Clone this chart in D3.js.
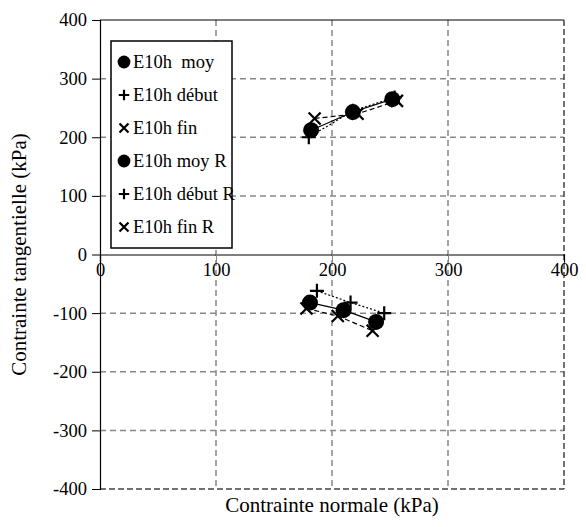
<!DOCTYPE html>
<html><head><meta charset="utf-8">
<script src="https://cdn.jsdelivr.net/npm/d3@7"></script>
<style>body{margin:0;background:#fff}svg text{font-family:"Liberation Serif","Times New Roman",serif !important}</style>
</head><body><svg id="c" width="586" height="527"></svg>
<script>
const xTicks=[0,100,200,300,400];
const yTicks=[-400,-300,-200,-100,0,100,200,300,400];
const moyN=[182,218,252], moyT=[212,243,265];
const debN=[180,218,254], debT=[200,245,268];
const finN=[185,222,256], finT=[232,240,262];
const moyRN=[181,210,238], moyRT=[-82,-95,-115];
const debRN=[187,216,245], debRT=[-62,-82,-100];
const finRN=[178,205,235], finRT=[-92,-105,-130];
const seriesNames=["E10h  moy","E10h début","E10h fin","E10h moy R","E10h début R","E10h fin R"];

const svg=d3.select("#c");
const L=100,R=564,T=20,B=489;
const x=d3.scaleLinear().domain([0,400]).range([L,R]);
const y=d3.scaleLinear().domain([-400,400]).range([B,T]);
const fs=18.5;

const g=svg.append("g");
xTicks.filter(d=>d>0&&d<400).forEach(d=>g.append("line").attr("x1",x(d)).attr("x2",x(d)).attr("y1",T).attr("y2",B).attr("stroke","#888").attr("stroke-width",1.5).attr("stroke-dasharray","6,4"));
yTicks.filter(d=>d!==0&&d>-400&&d<400).forEach(d=>g.append("line").attr("x1",L).attr("x2",R).attr("y1",y(d)).attr("y2",y(d)).attr("stroke","#888").attr("stroke-width",1.5).attr("stroke-dasharray","6,4"));
g.append("line").attr("x1",L).attr("x2",R).attr("y1",T).attr("y2",T).attr("stroke","#000").attr("stroke-width",1);
g.append("line").attr("x1",R).attr("x2",R).attr("y1",T).attr("y2",B).attr("stroke","#444").attr("stroke-width",1.5).attr("stroke-dasharray","6,3");
g.append("line").attr("x1",L).attr("x2",R).attr("y1",B).attr("y2",B).attr("stroke","#444").attr("stroke-width",1.5).attr("stroke-dasharray","6,3");

const yAxis=d3.axisLeft(y).tickValues(yTicks).tickSize(8).tickFormat(d=>d);
const ya=svg.append("g").attr("transform",`translate(${L},0)`).call(yAxis);
ya.select(".domain").attr("stroke","#000").attr("stroke-width",1.2);
ya.selectAll("text").style("font-size",fs+"px").attr("fill","#000").attr("dx",-2);
const xAxis=d3.axisBottom(x).tickValues(xTicks).tickSize(8).tickFormat(d=>d);
const xa=svg.append("g").attr("transform",`translate(0,${y(0)})`).call(xAxis);
xa.select(".domain").attr("stroke","#000").attr("stroke-width",1.2);
xa.selectAll(".tick line").attr("stroke",d=>(d===0||d===400)?"#000":"#888");
xa.selectAll("text").style("font-size",fs+"px").attr("fill","#000").attr("dy","0.55em");

function pts(N,Tv){return N.map((n,i)=>[n,Tv[i]]);}
const line=d3.line().x(d=>x(d[0])).y(d=>y(d[1]));
const series=[
 {p:pts(moyN,moyT),dash:null,m:"o"},
 {p:pts(debN,debT),dash:"2,2",m:"+"},
 {p:pts(finN,finT),dash:"5,3",m:"x"},
 {p:pts(moyRN,moyRT),dash:null,m:"o"},
 {p:pts(debRN,debRT),dash:"2,2",m:"+"},
 {p:pts(finRN,finRT),dash:"5,3",m:"x"}];
function marker(sel,m,cx,cy,s){
  if(m==="o") sel.append("circle").attr("cx",cx).attr("cy",cy).attr("r",8*s).attr("fill","#000");
  else if(m==="+"){const h=7*s;sel.append("path").attr("d",`M${cx-h},${cy}H${cx+h}M${cx},${cy-h}V${cy+h}`).attr("stroke","#000").attr("stroke-width",2.2);}
  else {const h=6*s;sel.append("path").attr("d",`M${cx-h},${cy-h}L${cx+h},${cy+h}M${cx-h},${cy+h}L${cx+h},${cy-h}`).attr("stroke","#000").attr("stroke-width",2.2);}
}
const sg=svg.append("g");
series.forEach(s=>{
  const p=sg.append("path").attr("d",line(s.p)).attr("fill","none").attr("stroke","#000").attr("stroke-width",1.2);
  if(s.dash)p.attr("stroke-dasharray",s.dash);
});
series.forEach(s=>s.p.forEach(d=>marker(sg,s.m,x(d[0]),y(d[1]),1)));

const lg=svg.append("g");
lg.append("rect").attr("x",111).attr("y",41).attr("width",121).attr("height",207).attr("fill","#fff").attr("stroke","#000").attr("stroke-width",1.5);
seriesNames.forEach((n,i)=>{
  const cy=62+i*33;
  marker(lg,series[i].m,124,cy,i%3===0?0.8:0.75);
  lg.append("text").attr("x",133).attr("y",cy).attr("dy","0.35em").style("font-size",fs+"px").style("white-space","pre").text(n);
});

svg.append("text").attr("x",332).attr("y",512).attr("text-anchor","middle").style("font-size","21px").text("Contrainte normale (kPa)");
svg.append("text").attr("transform",`translate(26,${y(0)}) rotate(-90)`).attr("text-anchor","middle").style("font-size","21px").text("Contrainte tangentielle (kPa)");
</script></body></html>
